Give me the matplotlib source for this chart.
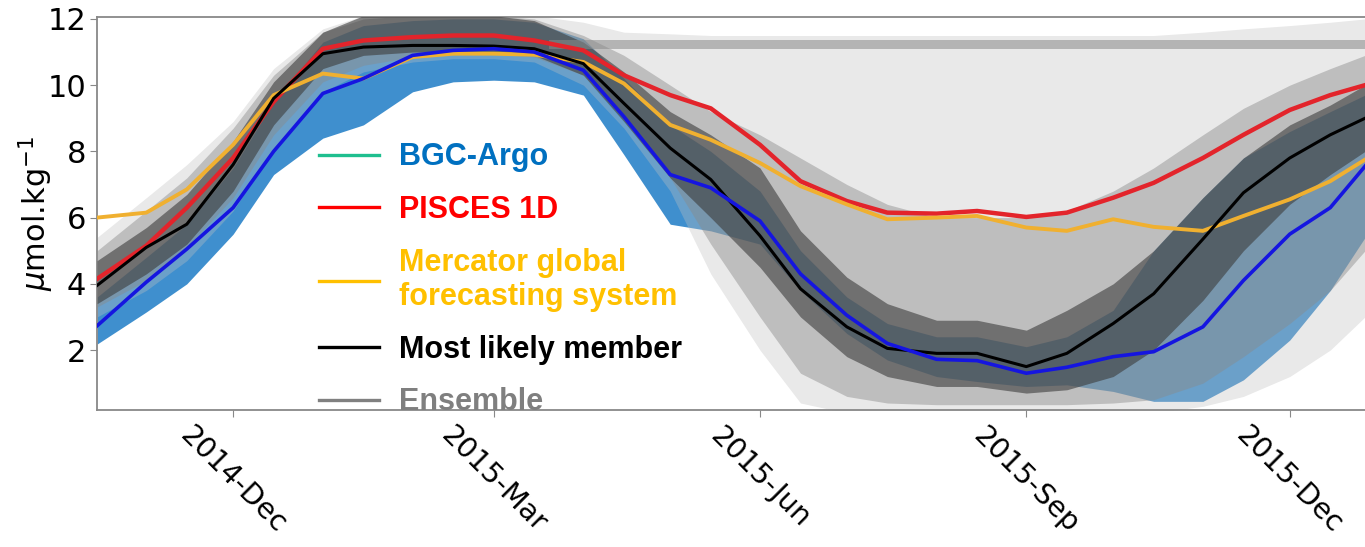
import pandas as pd
import matplotlib
matplotlib.use('Agg')
import matplotlib.pyplot as plt
import matplotlib.dates as mdates
from matplotlib.lines import Line2D

# Sampling dates (roughly twice a month)
dates = pd.to_datetime([
    '2014-10-15', '2014-11-01', '2014-11-15', '2014-12-01', '2014-12-15',
    '2015-01-01', '2015-01-15', '2015-02-01', '2015-02-15', '2015-03-01',
    '2015-03-15', '2015-04-01', '2015-04-15', '2015-05-01', '2015-05-15',
    '2015-06-01', '2015-06-15', '2015-07-01', '2015-07-15', '2015-08-01',
    '2015-08-15', '2015-09-01', '2015-09-15', '2015-10-01', '2015-10-15',
    '2015-11-01', '2015-11-15', '2015-12-01', '2015-12-15', '2015-12-27'])

# Observations and models (umol/kg)
argo = [2.73, 4.05, 5.05, 6.3, 8.0, 9.75, 10.2, 10.9, 11.05, 11.1,
        11.0, 10.45, 9.05, 7.3, 6.9, 5.9, 4.3, 3.05, 2.2, 1.72,
        1.68, 1.3, 1.48, 1.8, 1.95, 2.7, 4.1, 5.5, 6.3, 7.55]
argo_lo = [2.18, 3.15, 4.0, 5.5, 7.3, 8.4, 8.8, 9.8, 10.1, 10.15,
           10.1, 9.7, 7.9, 5.8, 5.6, 5.2, 3.8, 2.5, 1.7, 1.2,
           1.05, 0.9, 0.95, 0.75, 0.45, 0.45, 1.1, 2.3, 3.8, 5.4]
argo_hi = [3.6, 4.8, 5.8, 7.5, 9.5, 11.3, 11.8, 11.95, 12.0, 12.0,
           11.9, 11.4, 10.2, 8.8, 8.0, 6.8, 5.0, 3.6, 2.8, 2.4,
           2.4, 2.1, 2.4, 3.2, 5.0, 6.6, 7.8, 8.6, 9.2, 9.7]
pisces = [4.15, 5.15, 6.3, 7.8, 9.5, 11.1, 11.35, 11.45, 11.5, 11.5,
          11.35, 11.05, 10.3, 9.7, 9.3, 8.2, 7.1, 6.5, 6.15, 6.12,
          6.2, 6.02, 6.15, 6.6, 7.05, 7.8, 8.5, 9.25, 9.7, 10.0]
mercator = [6.0, 6.15, 6.85, 8.2, 9.7, 10.35, 10.2, 10.85, 10.95, 10.95,
            10.92, 10.7, 10.05, 8.8, 8.35, 7.65, 6.95, 6.4, 5.95, 6.0,
            6.05, 5.7, 5.6, 5.95, 5.72, 5.6, 6.05, 6.55, 7.1, 7.75]
best = [3.95, 5.1, 5.8, 7.6, 9.6, 10.95, 11.15, 11.2, 11.2, 11.18,
        11.1, 10.65, 9.45, 8.1, 7.15, 5.45, 3.85, 2.7, 2.05, 1.9,
        1.9, 1.5, 1.9, 2.8, 3.7, 5.35, 6.75, 7.8, 8.5, 9.0]

# Ensemble spread: outer, middle and core envelopes
ens_lo = [3.0, 3.8, 4.7, 6.2, 8.1, 9.8, 10.4, 10.7, 10.8, 10.8,
          10.7, 10.0, 8.7, 6.8, 4.3, 2.0, 0.4, 0.1, 0.1, 0.1,
          0.1, 0.1, 0.1, 0.1, 0.1, 0.3, 0.6, 1.2, 2.0, 3.0]
ens_hi = [5.4, 6.6, 7.6, 8.9, 10.5, 11.7, 12.1, 12.1, 12.1, 12.1,
          12.1, 11.9, 11.6, 11.55, 11.5, 11.5, 11.5, 11.5, 11.5, 11.5,
          11.5, 11.5, 11.5, 11.5, 11.5, 11.6, 11.7, 11.8, 11.9, 12.0]
mid_lo = [3.3, 4.1, 5.1, 6.6, 8.5, 10.1, 10.6, 10.85, 10.95, 10.95,
          10.85, 10.3, 9.0, 7.2, 5.2, 3.0, 1.3, 0.6, 0.4, 0.35,
          0.35, 0.35, 0.35, 0.4, 0.5, 1.0, 1.8, 2.8, 3.8, 5.0]
mid_hi = [5.0, 6.2, 7.2, 8.7, 10.3, 11.6, 12.0, 12.1, 12.1, 12.1,
          12.0, 11.5, 10.9, 10.0, 9.2, 8.5, 7.8, 7.0, 6.4, 6.0,
          6.0, 6.0, 6.2, 6.8, 7.5, 8.5, 9.3, 10.0, 10.5, 10.9]
core_lo = [3.4, 4.3, 5.2, 6.8, 8.8, 10.5, 10.9, 11.0, 11.0, 11.0,
           10.9, 10.3, 8.9, 7.2, 6.0, 4.5, 3.0, 1.8, 1.2, 0.9,
           0.9, 0.7, 0.8, 1.2, 2.0, 3.5, 5.0, 6.4, 7.3, 8.0]
core_hi = [4.7, 5.7, 6.7, 8.3, 10.1, 11.6, 12.1, 12.1, 12.1, 12.1,
           11.95, 11.3, 10.4, 9.2, 8.5, 7.5, 5.6, 4.2, 3.4, 2.9,
           2.9, 2.6, 3.2, 4.0, 5.0, 6.6, 7.8, 8.8, 9.4, 10.0]
# members stuck near the winter value
flat_dates = pd.to_datetime(['2015-03-20', '2015-12-27'])
flat_lo = [11.08, 11.08]
flat_hi = [11.36, 11.36]

fig = plt.figure(figsize=(13.65, 5.47), dpi=100)
ax = fig.add_axes([0.0711, 0.2505, 0.9289, 0.7185])

ax.fill_between(dates, argo_lo, argo_hi, color='#3f8fce', lw=0, zorder=1)
ax.fill_between(dates, ens_lo, ens_hi, color='#c0c0c0', alpha=0.35, lw=0, zorder=2)
ax.fill_between(dates, mid_lo, mid_hi, color='#8a8a8a', alpha=0.45, lw=0, zorder=3)
ax.fill_between(dates, core_lo, core_hi, color='#3c3c3c', alpha=0.6, lw=0, zorder=4)
ax.fill_between(flat_dates, flat_lo, flat_hi, color='#8a8a8a', alpha=0.55, lw=0, zorder=4)

ax.plot(dates, pisces, color='#e3242b', lw=3.2, zorder=6)
ax.plot(dates, mercator, color='#f0b030', lw=2.8, zorder=7)
ax.plot(dates, best, color='black', lw=2.2, zorder=8)
ax.plot(dates, argo, color='#1515e0', lw=2.6, zorder=9)

ax.set_xlim(pd.Timestamp('2014-10-15'), pd.Timestamp('2015-12-27'))
ax.set_ylim(0.19, 12.06)
ax.set_yticks([2, 4, 6, 8, 10, 12])
ax.xaxis.set_major_locator(mdates.MonthLocator(bymonth=[3, 6, 9, 12]))
ax.xaxis.set_major_formatter(mdates.DateFormatter('%Y-%b'))
ax.tick_params(axis='y', labelsize=22, length=5, color='#888888', pad=3)
ax.tick_params(axis='x', labelsize=20.5, length=5, color='#888888')
plt.setp(ax.get_xticklabels(), rotation=-45, ha='center')
ax.set_ylabel('$\\mu$mol.kg$^{-1}$', fontsize=22, labelpad=-6)
for side in ['left', 'top', 'bottom']:
    ax.spines[side].set_color('#888888')
    ax.spines[side].set_linewidth(1.3)
ax.spines['right'].set_visible(False)

handles = [Line2D([], [], color='#1fbf8f', lw=2.4),
           Line2D([], [], color='#ff0000', lw=2.4),
           Line2D([], [], color='#ffc000', lw=2.4),
           Line2D([], [], color='black', lw=2.4),
           Line2D([], [], color='#808080', lw=2.4)]
labels = ['BGC-Argo', 'PISCES 1D', 'Mercator global\nforecasting system',
          'Most likely member', 'Ensemble']
text_colors = ['#0070c0', '#ff0000', '#ffc000', 'black', '#7f7f7f']
leg = ax.legend(handles, labels, loc='upper left', bbox_to_anchor=(0.156, 0.743),
                frameon=False, handlelength=1.95, handletextpad=0.65,
                labelspacing=0.74, borderpad=0.3,
                prop={'family': 'Liberation Sans', 'weight': 'bold', 'size': 22})
leg.set_zorder(10)
for t, c in zip(leg.get_texts(), text_colors):
    t.set_color(c)

fig.savefig('out.png', dpi=100)
